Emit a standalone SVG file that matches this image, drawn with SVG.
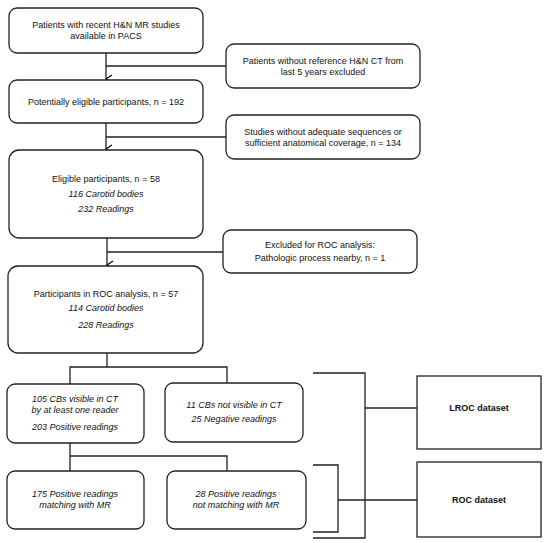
<svg xmlns="http://www.w3.org/2000/svg" width="550" height="543" viewBox="0 0 550 543">
<defs>
<marker id="arr" markerWidth="10" markerHeight="10" refX="5" refY="8" orient="auto-start-reverse" markerUnits="userSpaceOnUse" viewBox="0 0 10 10">
<path d="M1,2 L5,8 L9,2" fill="none" stroke="#000" stroke-width="1.2"/>
</marker>
</defs>
<style>
.box{fill:#fff;stroke:#222;stroke-width:1.3}
.t{font-family:"Liberation Sans",Arial,sans-serif;font-size:9px;fill:#111;text-anchor:middle}
.i{font-style:italic}
.b{font-weight:bold}
.c{fill:none;stroke:#222;stroke-width:1.3}
</style>
<g id="connectors">
<path class="c" d="M106,53 V79" marker-end="url(#arr)"/>
<path class="c" d="M106,66 H226"/>
<path class="c" d="M106,123 V149" marker-end="url(#arr)"/>
<path class="c" d="M106,137 H226"/>
<path class="c" d="M107,238 V265" marker-end="url(#arr)"/>
<path class="c" d="M107,252 H223"/>
<path class="c" d="M107,353 V367 M70,384 V367 H227 V384"/>
<path class="c" d="M70,443 V456 M70,471 V456 H227 V471"/>
<path class="c" d="M313,373 H365 V538 H313 M365,408 H417"/>
<path class="c" d="M313,465 H338 V532 H313 M338,500 H417"/>
</g>
<g id="n1"><rect class="box" x="9" y="8" width="194" height="45" rx="8"/>
<text class="t" x="106" y="28">Patients with recent H&amp;N MR studies</text>
<text class="t" x="106" y="39">available in PACS</text></g>
<g id="n2"><rect class="box" x="226" y="44" width="194" height="44" rx="8"/>
<text class="t" x="323" y="64">Patients without reference H&amp;N CT from</text>
<text class="t" x="323" y="75">last 5 years excluded</text></g>
<g id="n3"><rect class="box" x="9" y="80" width="194" height="43" rx="8"/>
<text class="t" x="106" y="105">Potentially eligible participants, n = 192</text></g>
<g id="n4"><rect class="box" x="226" y="115" width="194" height="44" rx="8"/>
<text class="t" x="323" y="135">Studies without adequate sequences or</text>
<text class="t" x="323" y="146">sufficient anatomical coverage, n = 134</text></g>
<g id="n5"><rect class="box" x="9" y="150" width="194" height="88" rx="10"/>
<text class="t" x="106" y="182">Eligible participants, n = 58</text>
<text class="t i" x="106" y="197">116 Carotid bodies</text>
<text class="t i" x="106" y="212">232 Readings</text></g>
<g id="n6"><rect class="box" x="223" y="230" width="194" height="43" rx="8"/>
<text class="t" x="320" y="248">Excluded for ROC analysis:</text>
<text class="t" x="320" y="261">Pathologic process nearby,  n = 1</text></g>
<g id="n7"><rect class="box" x="8" y="266" width="195" height="87" rx="10"/>
<text class="t" x="106" y="297">Participants in ROC analysis, n = 57</text>
<text class="t i" x="106" y="311">114 Carotid bodies</text>
<text class="t i" x="106" y="328">228 Readings</text></g>
<g id="n8"><rect class="box" x="7" y="384" width="137" height="59" rx="8"/>
<text class="t i" x="75" y="402">105 CBs visible in CT</text>
<text class="t i" x="75" y="413">by at least one reader</text>
<text class="t i" x="75" y="430">203 Positive readings</text></g>
<g id="n9"><rect class="box" x="165" y="383" width="138" height="59" rx="8"/>
<text class="t i" x="234" y="408">11 CBs not visible in CT</text>
<text class="t i" x="234" y="422">25 Negative readings</text></g>
<g id="n10"><rect class="box" x="7" y="471" width="137" height="58" rx="8"/>
<text class="t i" x="75" y="497">175 Positive readings</text>
<text class="t i" x="75" y="508">matching with MR</text></g>
<g id="n11"><rect class="box" x="167" y="471" width="139" height="58" rx="8"/>
<text class="t i" x="236" y="497">28 Positive readings</text>
<text class="t i" x="236" y="508">not matching with MR</text></g>
<g id="n12"><rect class="box" x="417" y="376" width="124" height="73"/>
<text class="t b" x="479" y="411">LROC dataset</text></g>
<g id="n13"><rect class="box" x="417" y="462" width="124" height="75"/>
<text class="t b" x="479" y="503">ROC dataset</text></g>
</svg>
